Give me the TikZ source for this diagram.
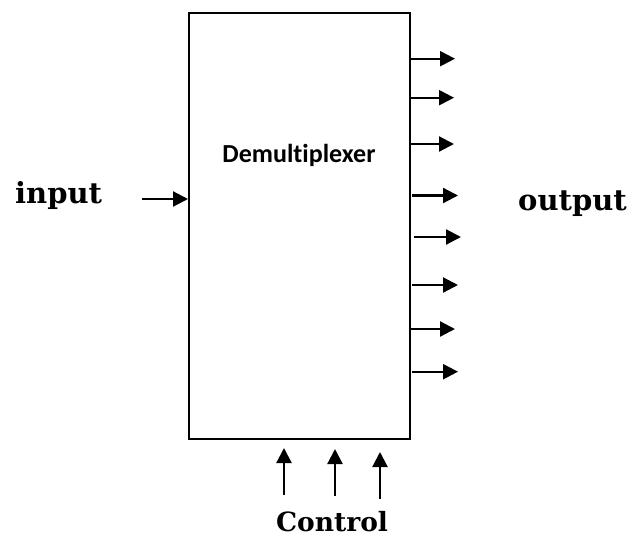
\documentclass[tikz,border=0pt]{standalone}
\usepackage{fontspec}
\newfontfamily\labelfont{DejaVu Serif}
\newfontfamily\boxfont[Ligatures={NoCommon,NoDiscretionary,NoRare}]{Carlito}
\usetikzlibrary{arrows.meta}
\tikzset{
  sig/.style={line width=2.2pt,-{Triangle[length=15pt,width=15pt]}},
  lbl/.style={font=\labelfont\bfseries\fontsize{29}{32}\selectfont,inner sep=0pt,anchor=base west},
}
\begin{document}
\begin{tikzpicture}[x=1pt,y=-1pt]
\useasboundingbox (0,0) rectangle (634,538);
\node[draw,line width=2.2pt,minimum width=221pt,minimum height=426pt,inner sep=0pt,anchor=north west] (box) at (188,12) {};
\node[font=\boxfont\bfseries\fontsize{26}{30}\selectfont,inner sep=0pt,anchor=base] (title) at (299,162) {Demultiplexer};
\node[lbl] (input) at (15,203) {input};
\node[lbl] (output) at (518,210) {output};
\node[lbl,font=\labelfont\bfseries\fontsize{26.5}{30}\selectfont,anchor=base] (control) at (332,531) {Control};
% input
\coordinate (in0) at (142,199);
\draw[sig] (in0) -- (box.west |- in0);
% outputs
\foreach \y/\s/\e [count=\i] in {58.7/409/455,97.7/409/454,144/409/454,195.5/412/458,237/414/461,285/412/458,329/409/455,371.7/412/458}{
  \coordinate (os\i) at (\s,\y);
  \coordinate (oe\i) at (\e,\y);
  \draw[sig] (os\i) -- (oe\i);
}
% control
\foreach \x/\a/\b [count=\i] in {284/495/448,335/496/449,380/499/452}{
  \coordinate (cs\i) at (\x,\a);
  \coordinate (ce\i) at (\x,\b);
  \draw[sig] (cs\i) -- (ce\i);
}
\end{tikzpicture}
\end{document}
